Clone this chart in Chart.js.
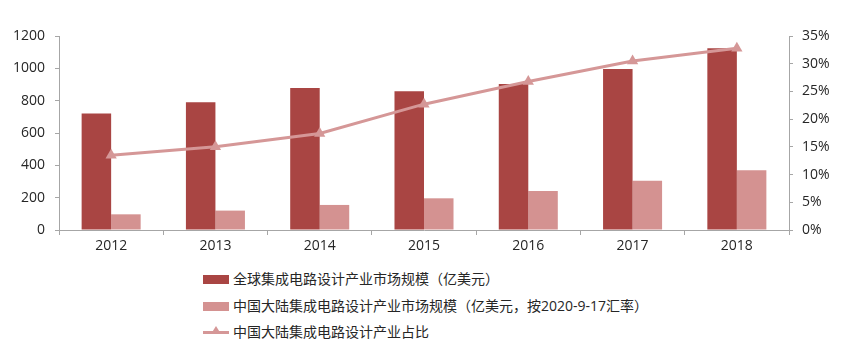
<!DOCTYPE html>
<html lang="zh-CN">
<head>
<meta charset="utf-8">
<script src="https://cdn.jsdelivr.net/npm/chart.js@4/dist/chart.umd.min.js"></script>
<style>
  html, body { margin: 0; padding: 0; background: #fff; }
  #wrap { position: relative; width: 845px; height: 346px; overflow: hidden; }
  #chartBox { position: absolute; left: 0; top: 0; width: 845px; height: 262px; }
  .legend { position: absolute; left: 203px; top: 266px; font-family: "Open Sans", "Noto Sans CJK SC", sans-serif; font-size: 14px; color: #262626; }
  .item { position: relative; height: 26.5px; line-height: 26.5px; padding-left: 30px; white-space: nowrap; }
  .sw { position: absolute; left: 0; top: 9px; width: 26px; height: 9px; }
  .ln { position: absolute; left: 0; top: 12px; width: 26px; height: 3px; }
  .tri { position: absolute; left: 8px; top: 7px; width: 0; height: 0;
         border-left: 5px solid transparent; border-right: 5px solid transparent; border-bottom: 8px solid #D59797; }
</style>
</head>
<body>
<div id="wrap">
  <div id="chartBox"><canvas id="c"></canvas></div>
  <div class="legend" id="legend"></div>
</div>
<script>
// Years on the category axis
const years = ['2012', '2013', '2014', '2015', '2016', '2017', '2018'];
// Global IC design market size (100M USD)
const globalMarket = [720, 790, 878, 858, 903, 996, 1124];
// Mainland China IC design market size (100M USD, at the 2020-9-17 rate)
const chinaMarket = [97, 120, 155, 196, 241, 305, 369];
// Mainland China share of the global market (%)
const chinaShare = [13.5, 15.0, 17.4, 22.7, 26.8, 30.5, 32.8];

const seriesNames = [
  '全球集成电路设计产业市场规模（亿美元）',
  '中国大陆集成电路设计产业市场规模（亿美元，按2020-9-17汇率）',
  '中国大陆集成电路设计产业占比'
];

const darkRed = '#A94543';
const lightRed = '#D49291';
const lineRed = '#D59797';
const axisGrey = '#A6A6A6';
const textColor = '#262626';
const fontFamily = '"Open Sans", "Noto Sans CJK SC", sans-serif';

const tickFont = { family: fontFamily, size: 14 };

new Chart(document.getElementById('c'), {
  type: 'bar',
  data: {
    labels: years,
    datasets: [
      {
        type: 'line',
        label: seriesNames[2],
        data: chinaShare,
        yAxisID: 'y1',
        borderColor: lineRed,
        backgroundColor: lineRed,
        borderWidth: 3,
        pointStyle: 'triangle',
        pointRadius: 6.5,
        pointBackgroundColor: lineRed,
        pointBorderColor: lineRed,
        pointBorderWidth: 0,
        tension: 0,
        order: 0
      },
      {
        label: seriesNames[0],
        data: globalMarket,
        yAxisID: 'y',
        backgroundColor: darkRed,
        categoryPercentage: 0.566,
        barPercentage: 1,
        order: 1
      },
      {
        label: seriesNames[1],
        data: chinaMarket,
        yAxisID: 'y',
        backgroundColor: lightRed,
        categoryPercentage: 0.566,
        barPercentage: 1,
        order: 1
      }
    ]
  },
  options: {
    responsive: true,
    maintainAspectRatio: false,
    animation: false,
    layout: { padding: { top: 36, left: 0, right: 0, bottom: 0 } },
    plugins: { legend: { display: false }, tooltip: { enabled: false } },
    scales: {
      x: {
        offset: true,
        grid: { offset: true, drawOnChartArea: false, drawTicks: true, tickLength: 5, color: axisGrey },
        border: { color: axisGrey, width: 1 },
        ticks: { color: textColor, font: tickFont, padding: 3, maxRotation: 0 },
        afterFit: (s) => { s.height = 32; }
      },
      y: {
        position: 'left',
        min: 0, max: 1200,
        grid: { drawOnChartArea: false, drawTicks: true, tickLength: 4, color: axisGrey },
        border: { color: axisGrey, width: 1 },
        ticks: { stepSize: 200, color: textColor, font: tickFont, padding: 10,
                 callback: (v) => String(v) },
        afterFit: (s) => { s.width = 59; }
      },
      y1: {
        position: 'right',
        min: 0, max: 35,
        grid: { drawOnChartArea: false, drawTicks: true, tickLength: 4, color: axisGrey },
        border: { color: axisGrey, width: 1 },
        ticks: { stepSize: 5, color: textColor, font: tickFont, padding: 9,
                 callback: (v) => v + '%' },
        afterFit: (s) => { s.width = 56; }
      }
    }
  }
});

// Legend below the chart, one series per row
const legend = document.getElementById('legend');
const swatches = [
  '<span class="sw" style="background:' + darkRed + '"></span>',
  '<span class="sw" style="background:' + lightRed + '"></span>',
  '<span class="ln" style="background:' + lineRed + '"></span><span class="tri"></span>'
];
seriesNames.forEach((name, i) => {
  const row = document.createElement('div');
  row.className = 'item';
  row.innerHTML = swatches[i];
  row.appendChild(document.createTextNode(name));
  legend.appendChild(row);
});
</script>
</body>
</html>
